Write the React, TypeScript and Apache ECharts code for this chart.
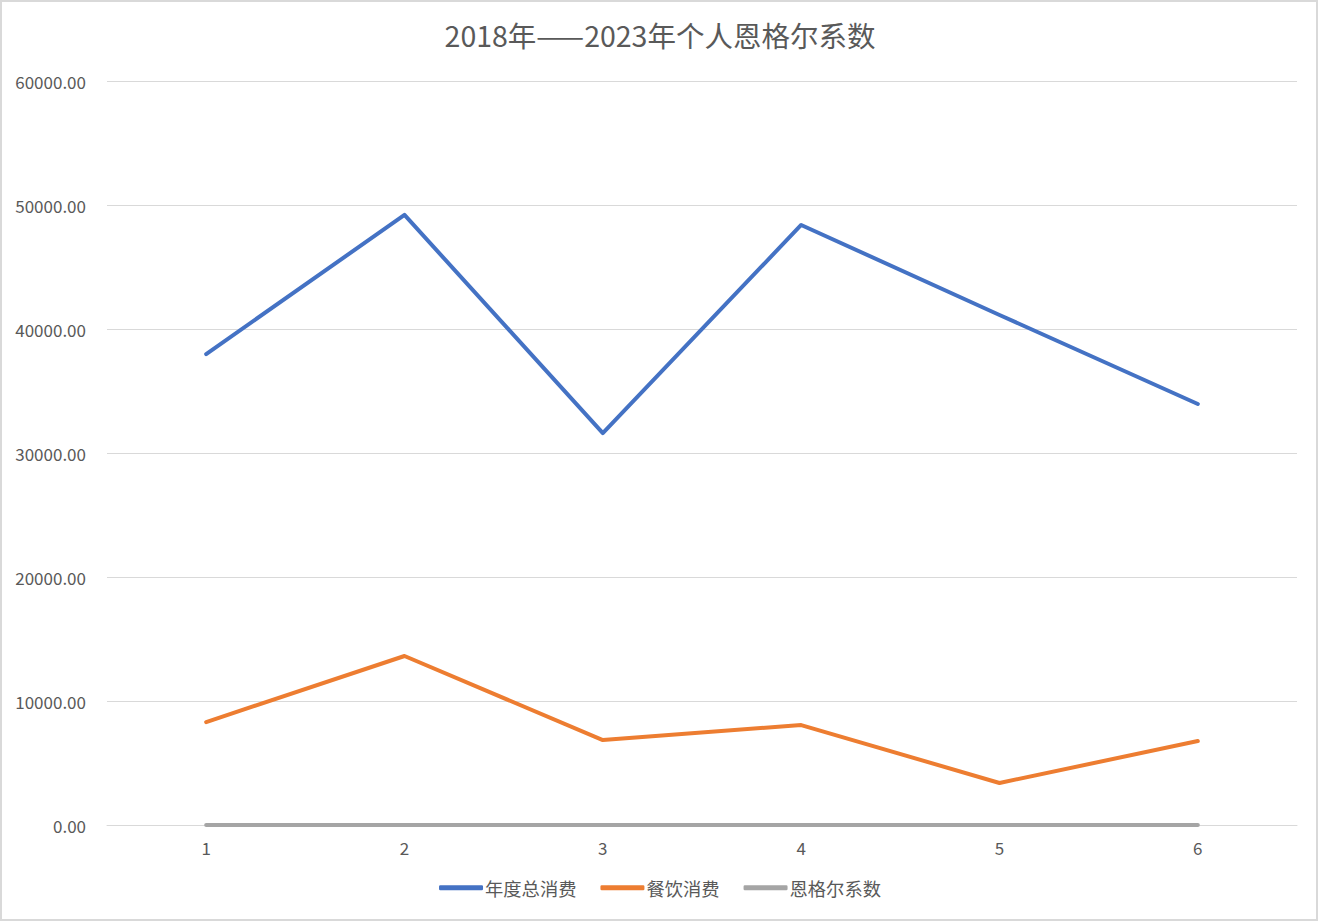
import React, { useEffect, useRef } from "react";
import * as echarts from "echarts";

const categories = ["1", "2", "3", "4", "5", "6"];
const totalSpend = [37980, 49200, 31610, 48390, 41130, 33950];
const foodSpend = [8300, 13630, 6850, 8060, 3390, 6770];
const engel = [0.22, 0.28, 0.22, 0.17, 0.08, 0.2];
const seriesNames = ["年度总消费", "餐饮消费", "恩格尔系数"];
const colors = ["#4472C4", "#ED7D31", "#A5A5A5"];

export default function App() {
  const ref = useRef<HTMLDivElement>(null);
  useEffect(() => {
    const chart = echarts.init(ref.current!, null, { renderer: "svg" });
    const font = "'Microsoft YaHei', 'Noto Sans CJK SC', sans-serif";
    const data = [totalSpend, foodSpend, engel];
    chart.setOption({
      animation: false,
      backgroundColor: "#ffffff",
      textStyle: { fontFamily: font },
      title: {
        text: "2018年——2023年个人恩格尔系数",
        left: "center",
        top: 15,
        textStyle: { fontSize: 28.5, fontWeight: "normal", color: "#595959", fontFamily: font },
      },
      graphic: [
        {
          type: "rect",
          shape: { x: 1, y: 1, width: 1316, height: 919 },
          style: { fill: "none", stroke: "#d9d9d9", lineWidth: 2 },
          silent: true,
        },
      ],
      legend: {
        bottom: 20,
        left: "center",
        itemWidth: 44,
        itemHeight: 5,
        itemGap: 24,
        icon: "roundRect",
        textStyle: { fontSize: 18.3, color: "#595959", fontFamily: font, padding: [0, 0, 0, -3] },
        data: seriesNames,
      },
      grid: { left: 107, right: 23, top: 81, bottom: 97 },
      xAxis: {
        type: "category",
        data: categories,
        boundaryGap: true,
        axisLine: { show: true, lineStyle: { color: "#d9d9d9", width: 1 } },
        axisTick: { show: false },
        axisLabel: { fontSize: 17, color: "#595959", margin: 14, fontFamily: font },
      },
      yAxis: {
        type: "value",
        min: 0,
        max: 60000,
        interval: 10000,
        axisLine: { show: false },
        axisTick: { show: false },
        splitLine: { lineStyle: { color: "#d9d9d9", width: 1 } },
        axisLabel: {
          fontSize: 17,
          color: "#595959",
          margin: 21,
          fontFamily: font,
          formatter: (v: number) => v.toFixed(2),
        },
      },
      series: seriesNames.map((name, i) => ({
        name,
        type: "line",
        data: data[i],
        symbol: "none",
        lineStyle: { color: colors[i], width: 4, cap: "round", join: "round" },
        itemStyle: { color: colors[i] },
        z: 3 - i,
      })),
    });
    return () => chart.dispose();
  }, []);
  return (
    <div
      ref={ref}
      style={{ position: "absolute", left: 0, top: 0, width: 1320, height: 922 }}
    />
  );
}
